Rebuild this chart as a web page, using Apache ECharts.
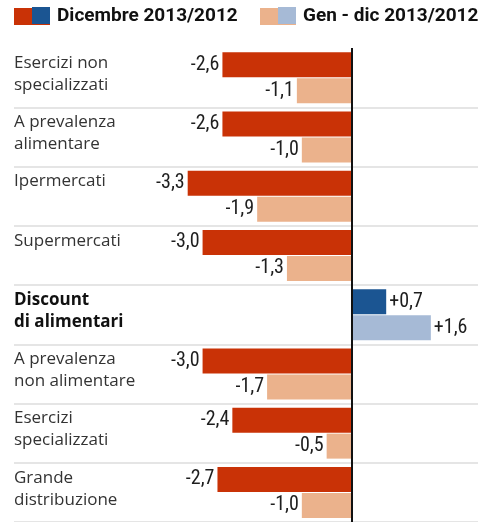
<!DOCTYPE html>
<html>
<head>
<meta charset="utf-8">
<script src="https://cdn.jsdelivr.net/npm/echarts@6/dist/echarts.min.js"></script>
<style>
html,body{margin:0;padding:0;background:#fff;}
#chart{width:494px;height:522px;}
</style>
</head>
<body>
<div id="chart"></div>
<script>
const categories = [
  'Esercizi non\nspecializzati',
  'A prevalenza\nalimentare',
  'Ipermercati\n ',
  'Supermercati\n ',
  'Discount\ndi alimentari',
  'A prevalenza\nnon alimentare',
  'Esercizi\nspecializzati',
  'Grande\ndistribuzione'
];
const highlightCategory = 4;
const seriesNames = ['Dicembre 2013/2012', 'Gen - dic 2013/2012'];
const dicembre = [-2.6, -2.6, -3.3, -3.0, 0.7, -3.0, -2.4, -2.7];
const genDic = [-1.1, -1.0, -1.9, -1.3, 1.6, -1.7, -0.5, -1.0];

const RED = '#c93206', PEACH = '#ebb28c', DBLUE = '#1b5592', LBLUE = '#a6bad6';
const numFont = "'Roboto Condensed', sans-serif";
const labFont = "'Open Sans', 'Noto Sans', sans-serif";
const legFont = "Roboto, sans-serif";

function fmt(v) {
  return (v > 0 ? '+' : '-') + Math.abs(v).toFixed(1).replace('.', ',');
}
function makeData(vals, normal, hi) {
  return vals.map((v, i) => ({
    value: v,
    itemStyle: { color: i === highlightCategory ? hi : normal },
    label: { position: v < 0 ? 'left' : 'right' }
  }));
}

const chart = echarts.init(document.getElementById('chart'), null, { renderer: 'canvas' });
const labelCommon = {
  show: true,
  formatter: p => fmt(p.value),
  fontFamily: numFont,
  fontSize: 20,
  color: '#1e1e1e',
  distance: 3
};
const legendCommon = {
  itemWidth: 36, itemHeight: 17, icon: 'rect', selectedMode: false, padding: 0, itemGap: 6,
  textStyle: { fontFamily: legFont, fontWeight: 'bold', fontSize: 19, lineHeight: 17, color: '#111', padding: [2, 0, 0, 2] }
};
chart.setOption({
  animation: false,
  backgroundColor: '#fff',
  grid: { left: 14, right: 16, top: 48, height: 480, containLabel: false },
  legend: [
    Object.assign({ data: [seriesNames[0]], left: 14, top: 7 }, legendCommon),
    Object.assign({ data: [seriesNames[1]], left: 260, top: 7 }, legendCommon)
  ],
  graphic: [
    { type: 'rect', left: 32, top: 7, shape: { width: 18, height: 17 }, style: { fill: DBLUE }, z: 100 },
    { type: 'rect', left: 278, top: 7, shape: { width: 18, height: 17 }, style: { fill: LBLUE }, z: 100 }
  ],
  xAxis: {
    type: 'value', min: -6.8, max: 2.55,
    axisLine: { show: false }, axisTick: { show: false }, axisLabel: { show: false }, splitLine: { show: false }
  },
  yAxis: {
    type: 'category', inverse: true, data: categories,
    axisLine: { show: false }, axisTick: { show: false },
    splitLine: { show: true, interval: (i) => i > 0, lineStyle: { color: '#dcdcdc', width: 1.5 } },
    axisLabel: {
      inside: true, margin: 0, align: 'left', verticalAlign: 'middle',
      fontFamily: labFont, fontSize: 17, lineHeight: 22, color: '#333', padding: [0, 0, 7, 0],
      formatter: (v, i) => i === highlightCategory ? '{b|' + v.split('\n').join('}\n{b|') + '}' : v,
      rich: { b: { fontFamily: labFont, fontSize: 17, lineHeight: 22, fontWeight: 'bold', color: '#111' } }
    }
  },
  series: [
    {
      name: seriesNames[0], type: 'bar', barWidth: 25, barGap: '4%',
      itemStyle: { color: RED },
      data: makeData(dicembre, RED, DBLUE),
      label: labelCommon,
      markLine: {
        silent: true, symbol: ['none', 'none'], label: { show: false },
        lineStyle: { color: '#111', width: 2, type: 'solid' },
        data: [{ xAxis: 0 }]
      }
    },
    {
      name: seriesNames[1], type: 'bar', barWidth: 25, barGap: '4%',
      itemStyle: { color: PEACH },
      data: makeData(genDic, PEACH, LBLUE),
      label: labelCommon
    }
  ]
});
</script>
</body>
</html>
